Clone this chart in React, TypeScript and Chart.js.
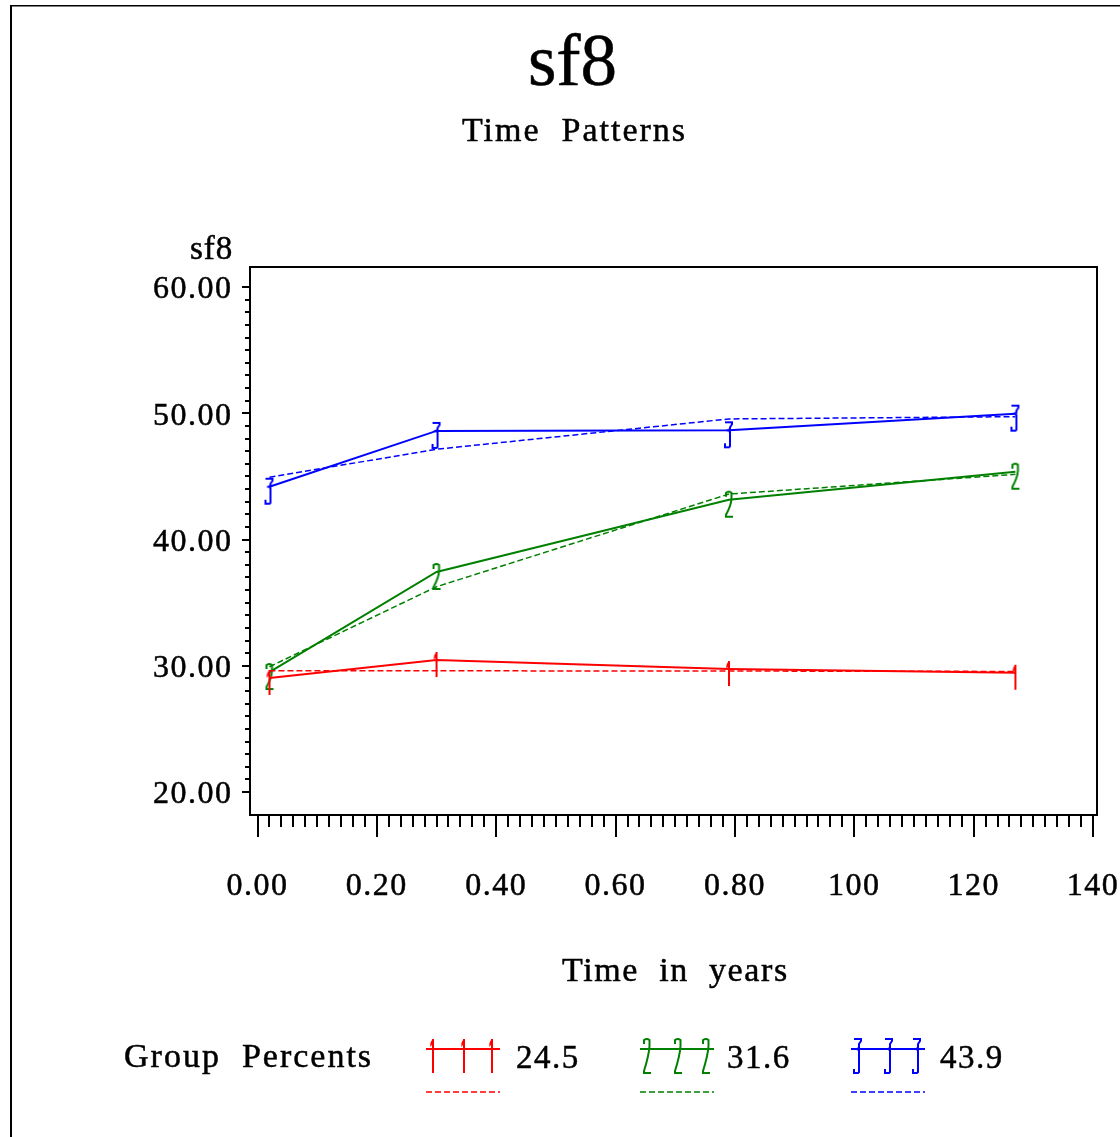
import React, { useEffect, useRef } from "react";
import { Chart, registerables } from "chart.js";

Chart.register(...registerables);

// ---- data ----
const times = [0.02, 0.3, 0.79, 1.27];
const group1Observed = [29.03, 30.46, 29.74, 29.45];
const group1Predicted = [29.6, 29.6, 29.58, 29.55];
const group2Observed = [29.5, 37.43, 43.15, 45.37];
const group2Predicted = [29.92, 36.26, 43.6, 45.16];
const group3Observed = [44.18, 48.6, 48.65, 49.97];
const group3Predicted = [44.93, 47.15, 49.55, 49.73];
const groupPercents = ["24.5", "31.6", "43.9"];
const groupDigits = ["1", "2", "3"];
const groupColors = ["#ff0000", "#008000", "#0000ff"];
const xTickValues = [0, 0.2, 0.4, 0.6, 0.8, 1.0, 1.2, 1.4];
const xTickLabels = ["0.00", "0.20", "0.40", "0.60", "0.80", "100", "120", "140"];
const yTickValues = [20, 30, 40, 50, 60];
const yTickLabels = ["20.00", "30.00", "40.00", "50.00", "60.00"];

const FONT = '"Liberation Serif", "DejaVu Serif", serif';
const W = 1120;
const H = 1137;

function drawGlyph(ctx: CanvasRenderingContext2D, digit: string, cx: number, cy: number, up: number, down: number, color: string) {
  const T = cy - up;
  const B = cy + down;
  ctx.save();
  ctx.strokeStyle = color;
  ctx.fillStyle = color;
  ctx.lineWidth = 2;
  ctx.lineJoin = "miter";
  ctx.lineCap = "butt";
  ctx.beginPath();
  if (digit === "1") {
    ctx.moveTo(cx, T);
    ctx.lineTo(cx, B);
    ctx.stroke();
    ctx.beginPath();
    ctx.moveTo(cx, T);
    ctx.quadraticCurveTo(cx - 3.5, T + 3, cx - 2.5, T + 8);
    ctx.lineTo(cx, T + 4);
    ctx.closePath();
    ctx.fill();
  } else if (digit === "2") {
    ctx.moveTo(cx - 3, T + 5);
    ctx.lineTo(cx - 3, T + 1);
    ctx.quadraticCurveTo(cx, T - 1, cx + 2.5, T + 1);
    ctx.lineTo(cx + 2.5, T + 7);
    ctx.quadraticCurveTo(cx + 2, cy + 6, cx - 3, B - 2);
    ctx.lineTo(cx - 3, B);
    ctx.lineTo(cx + 4, B);
    ctx.stroke();
  } else {
    ctx.moveTo(cx - 4, T);
    ctx.lineTo(cx + 3, T);
    ctx.lineTo(cx + 3, T + 2);
    ctx.lineTo(cx + 1, T + 5);
    ctx.lineTo(cx + 1, cy - 1);
    ctx.lineTo(cx - 1, cy);
    ctx.lineTo(cx + 1, cy + 1);
    ctx.lineTo(cx + 1, B - 1);
    ctx.lineTo(cx, B);
    ctx.lineTo(cx - 4, B);
    ctx.lineTo(cx - 4, B - 4);
    ctx.stroke();
  }
  ctx.restore();
}

function makeMarker(digit: string, color: string): HTMLCanvasElement {
  const c = document.createElement("canvas");
  c.width = 14;
  c.height = 38;
  const ctx = c.getContext("2d") as CanvasRenderingContext2D;
  drawGlyph(ctx, digit, 7, 19, 8, 17, color);
  return c;
}

function text(ctx: CanvasRenderingContext2D, s: string, x: number, y: number, size: number, spacing: number, align: CanvasTextAlign = "left") {
  ctx.save();
  (ctx as any).letterSpacing = spacing + "px";
  ctx.font = `${size}px ${FONT}`;
  ctx.fillStyle = "#000";
  ctx.strokeStyle = "#000";
  ctx.lineWidth = 0.5;
  ctx.textAlign = align;
  ctx.textBaseline = "alphabetic";
  ctx.fillText(s, x, y);
  ctx.strokeText(s, x, y);
  ctx.restore();
}

const decorPlugin = {
  id: "decor",
  beforeDraw(chart: any) {
    const ctx = chart.ctx;
    ctx.save();
    ctx.fillStyle = "#fff";
    ctx.fillRect(0, 0, chart.width, chart.height);
    ctx.restore();
    (ctx as any).letterSpacing = "1.5px";
  },
  afterDraw(chart: any) {
    const ctx: CanvasRenderingContext2D = chart.ctx;
    const ca = chart.chartArea;
    const xs = chart.scales.x;
    const ys = chart.scales.y;
    ctx.save();
    (ctx as any).letterSpacing = "0px";
    // outer frame
    ctx.fillStyle = "#000";
    ctx.fillRect(10, 5, 2, H);
    ctx.fillRect(10, 5, W, 1.5);
    // plot box
    ctx.strokeStyle = "#000";
    ctx.lineWidth = 2;
    ctx.strokeRect(Math.round(ca.left), Math.round(ca.top), Math.round(ca.right - ca.left), Math.round(ca.bottom - ca.top));
    // x ticks
    ctx.lineWidth = 2;
    for (let i = 0; i <= 70; i++) {
      const px = Math.round(xs.getPixelForValue(i * 0.02));
      const len = i % 10 === 0 ? 22 : 12;
      ctx.beginPath();
      ctx.moveTo(px, ca.bottom);
      ctx.lineTo(px, ca.bottom + len);
      ctx.stroke();
    }
    // y ticks
    for (let v = 20; v <= 60; v++) {
      const py = Math.round(ys.getPixelForValue(v));
      const len = v % 10 === 0 ? 8 : 5;
      ctx.beginPath();
      ctx.moveTo(ca.left, py);
      ctx.lineTo(ca.left - len, py);
      ctx.stroke();
    }
    ctx.restore();

    // titles
    text(ctx, "sf8", 572.5, 85, 73, 0, "center");
    text(ctx, "Time  Patterns", 462, 141, 34, 2);
    text(ctx, "sf8", 190, 259, 33, 1);
    text(ctx, "Time  in  years", 562, 981, 34, 1.6);

    // legend
    text(ctx, "Group  Percents", 124, 1067, 34, 2);
    const starts = [426, 640, 851];
    const labelX = [516, 727, 940];
    for (let g = 0; g < 3; g++) {
      const L = starts[g];
      const col = groupColors[g];
      ctx.save();
      ctx.strokeStyle = col;
      ctx.lineWidth = 2;
      ctx.beginPath();
      ctx.moveTo(L, 1049);
      ctx.lineTo(L + 74, 1049);
      ctx.stroke();
      ctx.lineWidth = 1.5;
      ctx.setLineDash([6, 3]);
      ctx.beginPath();
      ctx.moveTo(L, 1092);
      ctx.lineTo(L + 74, 1092);
      ctx.stroke();
      ctx.restore();
      [7, 38, 66].forEach((o) => drawGlyph(ctx, groupDigits[g], L + o, 1049, 10, 24, col));
      text(ctx, groupPercents[g], labelX[g], 1068, 33, 1.5);
    }
  },
};

export default function App() {
  const ref = useRef<HTMLCanvasElement | null>(null);
  useEffect(() => {
    document.body.style.margin = "0";
    const canvas = ref.current;
    if (!canvas) return;
    const observed = [group1Observed, group2Observed, group3Observed];
    const predicted = [group1Predicted, group2Predicted, group3Predicted];
    const datasets: any[] = [];
    for (let g = 0; g < 3; g++) {
      datasets.push({
        label: `Group ${g + 1} observed (${groupPercents[g]}%)`,
        data: times.map((t, i) => ({ x: t, y: observed[g][i] })),
        borderColor: groupColors[g],
        backgroundColor: groupColors[g],
        borderWidth: 2,
        pointStyle: makeMarker(groupDigits[g], groupColors[g]),
        pointRadius: 3,
        tension: 0,
        fill: false,
      });
      datasets.push({
        label: `Group ${g + 1} predicted`,
        data: times.map((t, i) => ({ x: t, y: predicted[g][i] })),
        borderColor: groupColors[g],
        backgroundColor: groupColors[g],
        borderWidth: 1.5,
        borderDash: [6, 3],
        pointRadius: 0,
        tension: 0,
        fill: false,
      });
    }
    const pxPerX = (1093 - 258) / 1.4;
    const pxPerY = (792 - 287) / 40;
    const chart = new Chart(canvas, {
      type: "line",
      data: { datasets },
      options: {
        animation: false,
        responsive: false,
        maintainAspectRatio: false,
        devicePixelRatio: 1,
        layout: { padding: { top: 267, right: 23, left: 0, bottom: 0 } },
        plugins: { legend: { display: false }, tooltip: { enabled: false }, title: { display: false } },
        scales: {
          x: {
            type: "linear",
            min: -7.5 / pxPerX,
            max: 1.4 + 4 / pxPerX,
            grid: { display: false, drawTicks: false },
            border: { display: false },
            afterBuildTicks: (s: any) => {
              s.ticks = xTickValues.map((v) => ({ value: v }));
            },
            afterFit: (s: any) => {
              s.height = H - 815;
              s.paddingLeft = 0;
              s.paddingRight = 0;
            },
            ticks: {
              autoSkip: false,
              maxRotation: 0,
              minRotation: 0,
              padding: 52,
              color: "#000",
              textStrokeColor: "#000",
              textStrokeWidth: 0.5,
              font: { family: FONT, size: 32 },
              callback: (v: any) => {
                const i = xTickValues.findIndex((t) => Math.abs(t - Number(v)) < 1e-9);
                return i >= 0 ? xTickLabels[i] : "";
              },
            },
          },
          y: {
            type: "linear",
            min: 20 - (815 - 792) / pxPerY,
            max: 60 + (287 - 267) / pxPerY,
            grid: { display: false, drawTicks: false },
            border: { display: false },
            afterBuildTicks: (s: any) => {
              s.ticks = yTickValues.map((v) => ({ value: v }));
            },
            afterFit: (s: any) => {
              s.width = 250;
              s.paddingTop = 0;
              s.paddingBottom = 0;
            },
            ticks: {
              autoSkip: false,
              padding: 17.5,
              color: "#000",
              textStrokeColor: "#000",
              textStrokeWidth: 0.5,
              font: { family: FONT, size: 32, lineHeight: "6px" },
              callback: (v: any) => {
                const i = yTickValues.findIndex((t) => Math.abs(t - Number(v)) < 1e-9);
                // second line of a two-line label sits half a line-height lower
                return i >= 0 ? ["", yTickLabels[i]] : "";
              },
            },
          },
        },
      },
      plugins: [decorPlugin],
    } as any);
    return () => chart.destroy();
  }, []);
  return <canvas ref={ref} width={W} height={H} style={{ display: "block", width: W, height: H }} />;
}
